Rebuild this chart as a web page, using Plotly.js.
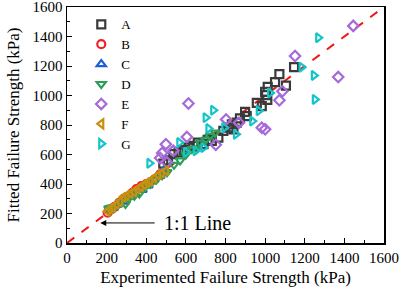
<!DOCTYPE html>
<html><head><meta charset="utf-8">
<script src="https://cdn.plot.ly/plotly-3.0.1.min.js"></script>
<style>html,body{margin:0;padding:0;background:#fff}#c{width:401px;height:288px}</style>
</head><body><div id="c"></div>
<script>
const seriesNames = ['A','B','C','D','E','F','G'];
const A_x = [486, 510, 537, 563, 590, 613, 638, 660, 689, 710, 731, 764, 789, 815, 832, 840, 857, 873, 899, 907, 958, 983, 1000, 1005, 1011, 1013, 1050, 1072, 1105, 1146];
const A_y = [538, 560, 603, 614, 630, 647, 659, 680, 670, 700, 692, 715, 760, 782, 805, 771, 816, 845, 889, 860, 950, 928, 1024, 1002, 970, 1058, 1091, 1145, 1067, 1192];
const B_x = [205, 212, 225, 240, 262, 285, 300, 330, 350, 375, 400, 440, 470];
const B_y = [205, 222, 230, 245, 270, 300, 310, 340, 365, 385, 400, 430, 465];
const C_x = [215, 235, 255, 290, 320, 345, 380, 410, 440, 470, 490];
const C_y = [225, 240, 260, 280, 315, 335, 360, 390, 430, 455, 495];
const D_x = [210, 222, 245, 270, 295, 310, 340, 365, 395, 420, 450, 480, 505, 540, 571, 600, 630, 655, 672, 700, 722, 748];
const D_y = [235, 240, 250, 275, 265, 300, 320, 335, 380, 400, 430, 460, 480, 530, 560, 600, 637, 640, 681, 700, 726, 748];
const E_x = [470, 480, 499, 504, 537, 605, 613, 751, 803, 868, 983, 1000, 1072, 1087, 1151, 1369, 1445];
const E_y = [576, 610, 670, 547, 625, 719, 946, 666, 838, 816, 782, 771, 968, 1029, 1268, 1125, 1472];
const F_x = [205, 218, 232, 250, 268, 285, 300, 320, 338, 355, 372, 390, 405, 420, 440, 460, 478, 500];
const F_y = [215, 230, 240, 262, 280, 310, 320, 335, 345, 365, 380, 395, 410, 420, 440, 460, 475, 490];
const G_x = [416, 567, 600, 650, 689, 700, 714, 738, 794, 853, 935, 968, 1025, 1184, 1246, 1251, 1268];
const G_y = [540, 681, 615, 625, 647, 850, 776, 900, 782, 737, 827, 897, 1017, 1192, 1136, 973, 1392];
const lineX = [0, 1600];
const lineY = [0, 1600];
const tickVals = [0, 200, 400, 600, 800, 1000, 1200, 1400, 1600];

const xs = [A_x, B_x, C_x, D_x, E_x, F_x, G_x];
const ys = [A_y, B_y, C_y, D_y, E_y, F_y, G_y];
const symbols = ['square-open','circle-open','triangle-up-open','triangle-down-open','diamond-open','triangle-left-open','triangle-right-open'];
const colors = ['#3a3a3a','#f02424','#1c5fd6','#2ca05a','#a66ad8','#c8900c','#14c4c8'];

const traces = [{
  x: lineX, y: lineY, mode: 'lines', showlegend: false,
  line: {color: '#f01818', width: 2, dash: 'dash'}, hoverinfo: 'skip'
}];
seriesNames.forEach((n, i) => {
  traces.push({
    x: xs[i], y: ys[i], name: n, mode: 'markers', type: 'scatter',
    marker: {symbol: symbols[i], size: 8, color: colors[i], line: {width: 2.2, color: colors[i]}}
  });
});

const font = 'Liberation Serif, Times New Roman, serif';
function axis(titleText, standoff) {
  return {
    range: [0, 1600], tickvals: tickVals, ticks: 'inside', ticklen: 5, tickwidth: 1,
    tickcolor: '#000', showline: true, linecolor: '#000', linewidth: 1.5, mirror: true,
    showgrid: false, zeroline: false, ticklabeloverflow: 'allow',
    tickfont: {family: font, size: 15, color: '#000'},
    minor: {ticks: 'inside', ticklen: 3, dtick: 100, tickcolor: '#000', showgrid: false},
    title: {text: titleText, font: {family: font, size: 17, color: '#000'}, standoff: standoff}
  };
}

const layout = {
  width: 401, height: 288,
  margin: {l: 67, r: 17, t: 7, b: 45},
  paper_bgcolor: '#fff', plot_bgcolor: '#fff',
  font: {family: font, color: '#000', size: 15},
  xaxis: axis('Experimented Failure Strength (kPa)', 6),
  yaxis: axis('Fitted Failure Strength (kPa)', 8),
  legend: {x: 0.045, y: 0.99, xanchor: 'left', yanchor: 'top', bgcolor: 'rgba(0,0,0,0)',
           font: {family: font, size: 13, color: '#000'}, tracegroupgap: 0},
  annotations: [
    {x: 168, y: 136, ax: 450, ay: 136, axref: 'x', ayref: 'y', xref: 'x', yref: 'y',
     text: '', showarrow: true, arrowhead: 2, arrowsize: 1.2, arrowwidth: 1, arrowcolor: '#000'},
    {x: 478, y: 136, xref: 'x', yref: 'y', xanchor: 'left', yanchor: 'middle',
     text: '1:1 Line', showarrow: false, font: {family: font, size: 20, color: '#000'}}
  ]
};

Plotly.newPlot('c', traces, layout, {displayModeBar: false, staticPlot: true});
</script>
</body></html>
